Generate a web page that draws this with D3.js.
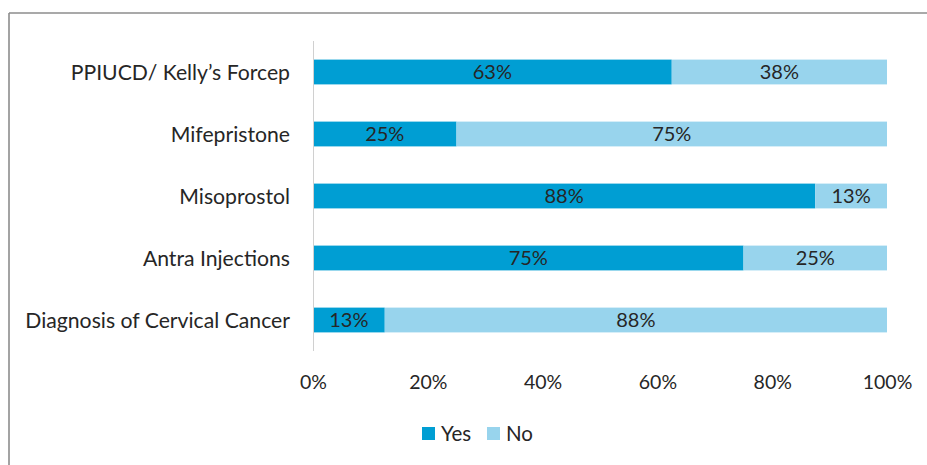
<!DOCTYPE html>
<html>
<head>
<meta charset="utf-8">
<script src="https://cdn.jsdelivr.net/npm/d3@7"></script>
<style>
  html, body { margin: 0; padding: 0; background: #fff; overflow: hidden; }
  svg { display: block; }
  text { font-family: Lato, "Open Sans", sans-serif; fill: #262626; }
</style>
</head>
<body>
<svg id="chart" width="927" height="465"></svg>
<script>
// Availability of supplies / skills (share of facilities)
const categories = [
  "PPIUCD/ Kelly\u2019s Forcep",
  "Mifepristone",
  "Misoprostol",
  "Antra Injections",
  "Diagnosis of Cervical Cancer"
];
const yesValues = [62.5, 25, 87.5, 75, 12.5];
const noValues  = [37.5, 75, 12.5, 25, 87.5];
const seriesNames = ["Yes", "No"];
const seriesColors = ["#009ed3", "#98d4ed"];
const tickValues = [0, 20, 40, 60, 80, 100];

const svg = d3.select("#chart");
const W = 927, H = 465;
const margin = { top: 41, right: 40, bottom: 114, left: 313 };
const plotW = 887 - margin.left;
const plotH = H - margin.top - margin.bottom;

// outer frame (top and left edges visible)
const frame = svg.append("g").attr("stroke", "#8c8c8c").attr("stroke-width", 1.6);
frame.append("line").attr("x1", 9).attr("x2", W + 5).attr("y1", 13).attr("y2", 13);
frame.append("line").attr("x1", 9).attr("x2", 9).attr("y1", 13).attr("y2", H + 5);

const g = svg.append("g").attr("transform", `translate(${margin.left},${margin.top})`);

const x = d3.scaleLinear().domain([0, 100]).range([0, plotW]);
const y = d3.scaleBand().domain(categories).range([0, plotH]).paddingInner(0.6).paddingOuter(0.3);

const rows = categories.map((c, i) => ({ cat: c, Yes: yesValues[i], No: noValues[i] }));
const stacked = d3.stack().keys(seriesNames)(rows);

const layers = g.selectAll("g.layer").data(stacked).join("g")
  .attr("class", "layer")
  .attr("fill", (d, i) => seriesColors[i]);

layers.selectAll("rect").data(d => d).join("rect")
  .attr("x", d => x(d[0]))
  .attr("y", d => y(d.data.cat))
  .attr("width", d => x(d[1]) - x(d[0]))
  .attr("height", y.bandwidth());

layers.selectAll("text").data(d => d).join("text")
  .attr("x", d => (x(d[0]) + x(d[1])) / 2)
  .attr("y", d => y(d.data.cat) + y.bandwidth() / 2)
  .attr("dy", "0.36em")
  .attr("text-anchor", "middle")
  .style("font-size", "20px")
  .text(d => Math.round(d[1] - d[0]) + "%");

// vertical category axis line
g.append("line")
  .attr("x1", 0.5).attr("x2", 0.5)
  .attr("y1", 0).attr("y2", plotH)
  .attr("stroke", "#d0d0d0").attr("stroke-width", 1);

// category labels
g.selectAll("text.cat").data(categories).join("text")
  .attr("class", "cat")
  .attr("x", -23)
  .attr("y", d => y(d) + y.bandwidth() / 2)
  .attr("dy", "0.36em")
  .attr("text-anchor", "end")
  .style("font-size", "21.2px")
  .text(d => d);

// percentage axis
const xAxis = d3.axisBottom(x).tickValues(tickValues).tickSize(0).tickPadding(0)
  .tickFormat(d => d + "%");
const ax = g.append("g").attr("transform", `translate(0,${plotH})`).call(xAxis);
ax.select(".domain").remove();
ax.selectAll("text")
  .attr("y", 31).attr("dy", "0.36em")
  .style("font-size", "19.5px").style("font-family", "Lato, sans-serif").attr("fill", "#262626");

// legend
const legend = svg.append("g").attr("transform", "translate(422,427)");
const lx = [0, 65];
seriesNames.forEach((s, i) => {
  const item = legend.append("g").attr("transform", `translate(${lx[i]},0)`);
  item.append("rect").attr("width", 13).attr("height", 13).attr("fill", seriesColors[i]);
  item.append("text").attr("x", 19).attr("y", 6.5).attr("dy", "0.36em")
    .style("font-size", "20.5px").text(s);
});
</script>
</body>
</html>
